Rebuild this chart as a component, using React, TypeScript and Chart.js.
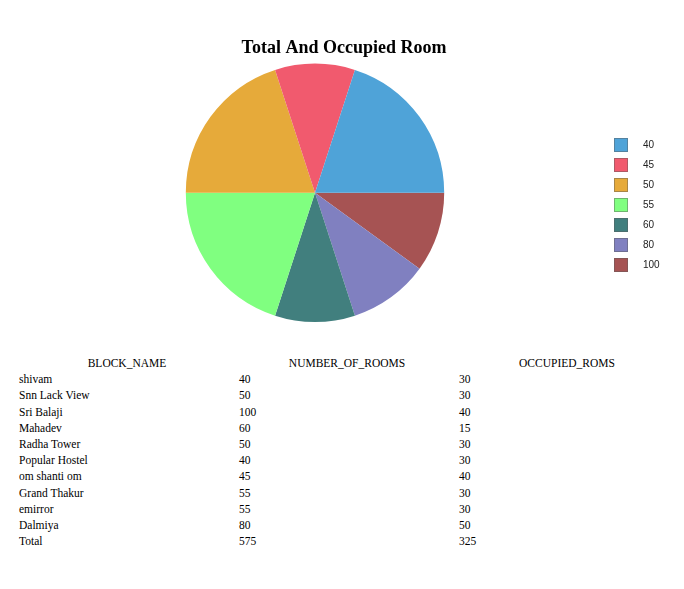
import React, { useEffect, useRef } from 'react';
import { Chart, registerables } from 'chart.js';

Chart.register(...registerables);

// ---- data ----
const chartTitle = 'Total And Occupied Room';
const sliceLabels = ['40', '45', '50', '55', '60', '80', '100'];
const sliceCounts = [2, 1, 2, 2, 1, 1, 1];
const sliceColors = ['#4fa3d8', '#f15a6e', '#e6aa3a', '#80ff80', '#417f7e', '#8080c0', '#a65353'];

const tableHeaders = ['BLOCK_NAME', 'NUMBER_OF_ROOMS', 'OCCUPIED_ROMS'];
const blockNames = ['shivam', 'Snn Lack View', 'Sri Balaji', 'Mahadev', 'Radha Tower', 'Popular Hostel', 'om shanti om', 'Grand Thakur', 'emirror', 'Dalmiya'];
const numberOfRooms = [40, 50, 100, 60, 50, 40, 45, 55, 55, 80];
const occupiedRooms = [30, 30, 40, 15, 30, 30, 40, 30, 30, 50];
const totalLabel = 'Total';

function makeSwatch(color: string): HTMLCanvasElement {
  const c = document.createElement('canvas');
  c.width = 24;
  c.height = 14;
  const g = c.getContext('2d')!;
  g.fillStyle = color;
  g.fillRect(0, 0, 14, 14);
  g.strokeStyle = 'rgba(90,90,90,0.45)';
  g.lineWidth = 1;
  g.strokeRect(0.5, 0.5, 13, 13);
  return c;
}

export default function App() {
  const ref = useRef<HTMLCanvasElement>(null);

  useEffect(() => {
    if (!ref.current) return;
    const n = sliceLabels.length;
    const revLabels = [...sliceLabels].reverse();
    const revCounts = [...sliceCounts].reverse();
    const revColors = [...sliceColors].reverse();
    const swatches = sliceColors.map(makeSwatch);

    const legendWidthPlugin = {
      id: 'legendWidth',
      afterInit(chart: any) {
        const leg = chart.legend;
        if (leg && !leg._patchedFit) {
          const orig = leg.fit;
          leg.fit = function () {
            orig.call(this);
            this.width = 58;
          };
          leg._patchedFit = true;
        }
      },
    };

    const chart = new Chart(ref.current, {
      type: 'pie',
      data: {
        labels: revLabels,
        datasets: [
          {
            data: revCounts,
            backgroundColor: revColors,
            borderWidth: 0,
          },
        ],
      },
      plugins: [legendWidthPlugin],
      options: {
        animation: false,
        responsive: true,
        maintainAspectRatio: false,
        rotation: 90,
        layout: { padding: 0 },
        plugins: {
          title: {
            display: true,
            text: chartTitle,
            color: '#000',
            font: { family: 'Liberation Serif', size: 18, weight: 'bold', lineHeight: 1.2 },
            padding: { top: 30, bottom: 4 },
          },
          legend: {
            display: true,
            position: 'right',
            title: {
              display: true,
              text: ' ',
              color: '#222',
              font: { size: 10, lineHeight: 1.2 },
              padding: { top: 68, bottom: 0 },
            },
            labels: {
              usePointStyle: true,
              pointStyleWidth: 24,
              boxHeight: 14,
              padding: 10,
              color: '#222',
              font: { family: 'Liberation Sans', size: 10 },
              generateLabels: (c: any) =>
                sliceLabels.map((t, i) => ({
                  text: t,
                  fillStyle: sliceColors[i],
                  strokeStyle: sliceColors[i],
                  fontColor: '#222',
                  lineWidth: 0,
                  pointStyle: swatches[i],
                  hidden: !c.getDataVisibility(n - 1 - i),
                  index: n - 1 - i,
                })),
            },
          },
          tooltip: { enabled: false },
        },
      } as any,
    });
    return () => chart.destroy();
  }, []);

  const cellFont: React.CSSProperties = {
    fontFamily: '"Liberation Serif", serif',
    fontSize: '11.5px',
    lineHeight: '16.2px',
    padding: 0,
    color: '#000',
  };
  const tdStyle: React.CSSProperties = { ...cellFont, textAlign: 'left', paddingLeft: 2, whiteSpace: 'nowrap' };
  const thStyle: React.CSSProperties = { ...cellFont, textAlign: 'center', fontWeight: 'normal' };

  const totalRooms = numberOfRooms.reduce((a, b) => a + b, 0);
  const totalOccupied = occupiedRooms.reduce((a, b) => a + b, 0);

  return (
    <div style={{ position: 'relative', width: 668, height: 570 }}>
      <div style={{ position: 'absolute', left: 18, top: 0, width: 636, height: 314 }}>
        <canvas ref={ref} />
      </div>
      <table
        style={{
          position: 'absolute',
          left: 9,
          top: 347,
          width: 660,
          borderCollapse: 'collapse',
          tableLayout: 'fixed',
        }}
      >
        <colgroup>
          <col style={{ width: 220 }} />
          <col style={{ width: 220 }} />
          <col style={{ width: 220 }} />
        </colgroup>
        <thead>
          <tr>
            {tableHeaders.map((h) => (
              <th key={h} style={thStyle}>{h}</th>
            ))}
          </tr>
        </thead>
        <tbody>
          {blockNames.map((b, i) => (
            <tr key={b}>
              <td style={tdStyle}>{b}</td>
              <td style={tdStyle}>{numberOfRooms[i]}</td>
              <td style={tdStyle}>{occupiedRooms[i]}</td>
            </tr>
          ))}
          <tr>
            <td style={tdStyle}>{totalLabel}</td>
            <td style={tdStyle}>{totalRooms}</td>
            <td style={tdStyle}>{totalOccupied}</td>
          </tr>
        </tbody>
      </table>
    </div>
  );
}
